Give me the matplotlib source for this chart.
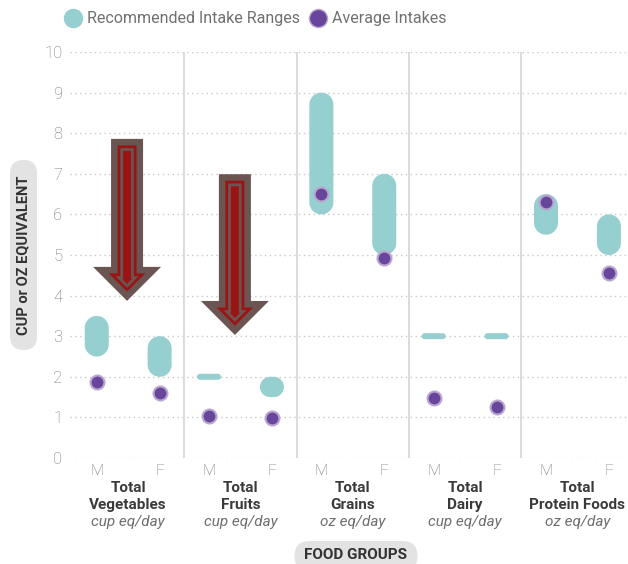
import numpy as np
import matplotlib.pyplot as plt
from matplotlib.patches import FancyBboxPatch, Polygon
from matplotlib.lines import Line2D
from matplotlib import transforms

plt.rcParams['font.family'] = ['Roboto', 'DejaVu Sans']

# food groups and their units
group_top = ['Total'] * 5
group_name = ['Vegetables', 'Fruits', 'Grains', 'Dairy', 'Protein Foods']
group_unit = ['cup eq/day', 'cup eq/day', 'oz eq/day', 'cup eq/day', 'oz eq/day']
sex_labels = ['M', 'F']

# recommended intake ranges (low, high) for males and females
rec_low_m = [2.5, 2.0, 6.0, 3.0, 5.5]
rec_high_m = [3.5, 2.0, 9.0, 3.0, 6.5]
rec_low_f = [2.0, 1.5, 5.0, 3.0, 5.0]
rec_high_f = [3.0, 2.0, 7.0, 3.0, 6.0]

# average intakes
avg_m = [1.86, 1.03, 6.5, 1.47, 6.31]
avg_f = [1.59, 0.99, 4.92, 1.26, 4.56]

# big "intake should go down" arrows: centre x, top y, tip y
arrow_x = [0.49, 1.45]
arrow_top = [7.86, 6.99]
arrow_tip = [3.87, 3.03]

TEAL = '#95cfcf'
PURPLE = '#67469b'
PURPLE_EDGE = '#baa6d1'
ARROW_GREY = '#6b5553'
ARROW_RED = '#9b1414'

W, H = 628, 564
fig = plt.figure(figsize=(W / 100, H / 100), dpi=100)
ax = fig.add_axes([70 / W, 1 - 458 / H, 558 / W, 406 / H])
ax.set_xlim(-0.018, 4.95)
ax.set_ylim(0, 10)
for s in ax.spines.values():
    s.set_visible(False)

# pixels per data unit
(x0, y0), (x1, y1) = ax.transData.transform([(0, 0), (1, 1)])
sx, sy = x1 - x0, y1 - y0

ax.set_yticks(range(11))
ax.tick_params(axis='y', length=0, pad=5.5, labelsize=12, labelcolor='#777777')
for lab in ax.get_yticklabels():
    lab.set_fontweight('light')
ax.grid(axis='y', color='#c9c9c9', linestyle=(0, (1, 2.5)), lw=1)
ax.set_axisbelow(True)
ax.vlines([1, 2, 3, 4], 0, 10, color='#d8d8d8', lw=1.3, zorder=1)

x_m = [i + 0.22 for i in range(5)]
x_f = [i + 0.78 for i in range(5)]
ax.set_xticks(x_m + x_f, [sex_labels[0]] * 5 + [sex_labels[1]] * 5)
ax.tick_params(axis='x', length=0, pad=4, labelsize=11, labelcolor='#7c7c7c')
for lab in ax.get_xticklabels():
    lab.set_fontweight('light')


def range_bar(x, lo, hi, half_w=12, min_h=6):
    # rounded capsule, corner radius in pixels, drawn in data space
    b = max((hi - lo) * sy, min_h) / 2
    r = min(half_w, b)
    mid = (lo + hi) / 2
    pts = []
    for cx, cy, a0 in [(half_w - r, b - r, 0), (-(half_w - r), b - r, 90),
                       (-(half_w - r), -(b - r), 180), (half_w - r, -(b - r), 270)]:
        t = np.radians(np.linspace(a0, a0 + 90, 12))
        pts += list(zip(cx + r * np.cos(t), cy + r * np.sin(t)))
    verts = [(x + px / sx, mid + py / sy) for px, py in pts]
    ax.add_patch(Polygon(verts, closed=True, fc=TEAL, ec='none', zorder=2))


for i in range(5):
    range_bar(x_m[i], rec_low_m[i], rec_high_m[i])
    range_bar(x_f[i], rec_low_f[i], rec_high_f[i])

ax.scatter(x_m + x_f, avg_m + avg_f, s=100, c=PURPLE, edgecolors=PURPLE_EDGE,
           linewidths=1.5, zorder=3, clip_on=False)


def arrow_layer(xc, top, tip, d, color):
    # arrow outline in pixels (tip at origin, y up), shrunk inwards by d
    s, hh, hl = 16, 34, 34
    T = (top - tip) * sy
    n = (hh ** 2 + hl ** 2) ** 0.5
    tip_y = d * n / hh
    base_y = hl - d
    xr = (hh * base_y - d * n) / hl
    pts = [(0, tip_y), (xr, base_y), (s - d, base_y), (s - d, T - d),
           (-(s - d), T - d), (-(s - d), base_y), (-xr, base_y)]
    verts = [(xc + px / sx, tip + py / sy) for px, py in pts]
    ax.add_patch(Polygon(verts, closed=True, fc=color, ec='none', zorder=4))


for xc, top, tip in zip(arrow_x, arrow_top, arrow_tip):
    arrow_layer(xc, top, tip, 0, ARROW_GREY)
    arrow_layer(xc, top, tip, 6.5, ARROW_RED)
    arrow_layer(xc, top, tip, 9.3, ARROW_GREY)
    arrow_layer(xc, top, tip, 12, ARROW_RED)

# group names under the M / F labels
tr = transforms.blended_transform_factory(ax.transData, fig.transFigure)
for i in range(5):
    xc = i + 0.5
    ax.text(xc, 1 - 488 / H, group_top[i], transform=tr, ha='center', va='center',
            fontsize=11, fontweight='bold', color='#3a3a3a')
    ax.text(xc, 1 - 505 / H, group_name[i], transform=tr, ha='center', va='center',
            fontsize=11, fontweight='bold', color='#3a3a3a')
    ax.text(xc, 1 - 522 / H, group_unit[i], transform=tr, ha='center', va='center',
            fontsize=11, style='italic', color='#6e6e6e')


def fig_pill(cx, cy, w, h, color):
    r = min(w, h) / 2
    p = FancyBboxPatch(((cx - w / 2) / W, 1 - (cy + h / 2) / H), w / W, h / H,
                       boxstyle=f'round,pad=0,rounding_size={r / W}',
                       mutation_aspect=W / H, fc=color, ec='none',
                       transform=fig.transFigure)
    fig.add_artist(p)


fig_pill(23.5, 255, 27, 190, '#e3e3e3')
fig.text(23.5 / W, 1 - 255 / H, 'CUP or OZ EQUIVALENT', rotation=90,
         ha='center', va='center', fontsize=10.5, fontweight='bold', color='#333333')

fig_pill(356, 556, 123, 30, '#e3e3e3')
fig.text(356 / W, 1 - 555 / H, 'FOOD GROUPS', ha='center', va='center',
         fontsize=11, fontweight='bold', color='#333333')

# legend
fig.add_artist(Line2D([73 / W], [1 - 18 / H], marker='o', ms=13, ls='',
                      color=TEAL, transform=fig.transFigure))
fig.text(87 / W, 1 - 18 / H, 'Recommended Intake Ranges', ha='left', va='center',
         fontsize=11.5, color='#707070')
fig.add_artist(Line2D([318 / W], [1 - 18 / H], marker='o', ms=13, ls='',
                      color=PURPLE, markeredgecolor=PURPLE_EDGE, mew=1,
                      transform=fig.transFigure))
fig.text(332 / W, 1 - 18 / H, 'Average Intakes', ha='left', va='center',
         fontsize=11.5, color='#707070')

fig.savefig('out.png', dpi=100)
